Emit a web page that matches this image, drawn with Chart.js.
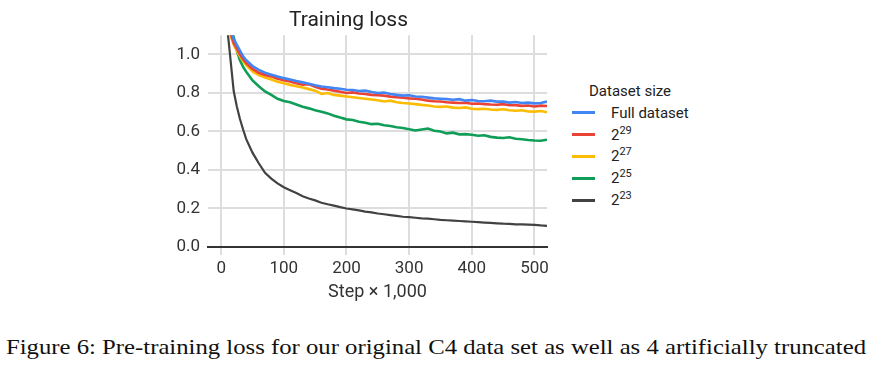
<!DOCTYPE html>
<html>
<head>
<meta charset="utf-8">
<script src="https://cdn.jsdelivr.net/npm/chart.js@4"></script>
<style>
  html, body { margin: 0; padding: 0; background: #fff; }
  body { width: 879px; height: 367px; position: relative; overflow: hidden; font-family: Roboto, sans-serif; }
  #wrap { position: absolute; left: 0; top: 0; width: 560px; height: 305px; }
  #legend { position: absolute; left: 572px; top: 80px; color: #222; font-size: 15px; }
  #legend .ttl { margin-left: 17px; height: 22px; line-height: 22px; }
  #legend .row { height: 21.8px; display: flex; align-items: center; }
  #legend .sw { width: 23px; height: 3px; margin-right: 16px; }
  #legend sup { font-size: 11px; vertical-align: 6px; line-height: 0; }
  #caption { position: absolute; left: 6px; top: 335px; white-space: nowrap; font-family: "Liberation Serif", "DejaVu Serif", serif; font-size: 21px; color: #111; transform-origin: 0 0; }
</style>
</head>
<body>
<div id="wrap"><canvas id="lossChart"></canvas></div>
<div id="legend"></div>
<div id="caption">Figure 6: Pre-training loss for our original C4 data set as well as 4 artificially truncated</div>
<script>
const steps = [10, 15, 20, 25, 30, 35, 40, 50, 60, 70, 80, 90, 100, 110, 120, 130, 140, 150, 160, 170, 180, 190,
  200, 210, 220, 230, 240, 250, 260, 270, 280, 290, 300, 310, 320, 330, 340, 350, 360, 370, 380, 390,
  400, 410, 420, 430, 440, 450, 460, 470, 480, 490, 500, 510, 520];

const lossFull = [1.22, 1.12, 1.08, 1.05, 1.02, 0.99, 0.97, 0.94, 0.92, 0.905, 0.895, 0.885, 0.877, 0.87, 0.862, 0.855, 0.848, 0.84, 0.834, 0.83, 0.825, 0.822,
  0.817, 0.815, 0.81, 0.812, 0.805, 0.8, 0.802, 0.795, 0.79, 0.786, 0.788, 0.782, 0.78, 0.776, 0.772, 0.77, 0.768, 0.765, 0.768, 0.76,
  0.763, 0.758, 0.757, 0.76, 0.755, 0.756, 0.75, 0.753, 0.748, 0.75, 0.746, 0.748, 0.755];
const loss29 = [1.2, 1.11, 1.06, 1.03, 1.0, 0.975, 0.955, 0.925, 0.905, 0.893, 0.886, 0.874, 0.866, 0.86, 0.85, 0.843, 0.845, 0.832, 0.822, 0.818, 0.812, 0.806,
  0.8, 0.803, 0.797, 0.795, 0.79, 0.788, 0.786, 0.781, 0.778, 0.775, 0.772, 0.77, 0.766, 0.76, 0.757, 0.756, 0.752, 0.75, 0.748, 0.749,
  0.744, 0.745, 0.742, 0.74, 0.739, 0.742, 0.736, 0.737, 0.733, 0.735, 0.73, 0.734, 0.732];
const loss27 = [1.19, 1.1, 1.05, 1.02, 0.99, 0.965, 0.945, 0.912, 0.893, 0.88, 0.87, 0.858, 0.85, 0.842, 0.835, 0.828, 0.82, 0.812, 0.795, 0.8, 0.79, 0.786,
  0.782, 0.778, 0.774, 0.77, 0.766, 0.762, 0.756, 0.76, 0.752, 0.748, 0.745, 0.742, 0.738, 0.735, 0.73, 0.728, 0.73, 0.724, 0.722, 0.725,
  0.718, 0.716, 0.718, 0.714, 0.712, 0.715, 0.71, 0.708, 0.71, 0.704, 0.703, 0.706, 0.7];
const loss25 = [1.25, 1.15, 1.09, 1.02, 0.97, 0.935, 0.91, 0.865, 0.835, 0.808, 0.79, 0.77, 0.758, 0.752, 0.74, 0.728, 0.72, 0.71, 0.702, 0.694, 0.682, 0.672,
  0.663, 0.66, 0.65, 0.645, 0.638, 0.64, 0.632, 0.628, 0.622, 0.618, 0.612, 0.605, 0.61, 0.615, 0.604, 0.6, 0.59, 0.594, 0.585, 0.586,
  0.583, 0.578, 0.58, 0.572, 0.568, 0.566, 0.57, 0.562, 0.56, 0.556, 0.553, 0.552, 0.557];
const loss23 = [1.13, 0.97, 0.81, 0.73, 0.665, 0.61, 0.56, 0.49, 0.435, 0.385, 0.355, 0.33, 0.31, 0.295, 0.28, 0.264, 0.252, 0.242, 0.23, 0.222, 0.215, 0.207,
  0.2, 0.195, 0.19, 0.184, 0.18, 0.174, 0.17, 0.166, 0.162, 0.157, 0.155, 0.152, 0.149, 0.147, 0.144, 0.141, 0.139, 0.137, 0.135, 0.133,
  0.131, 0.129, 0.127, 0.125, 0.123, 0.121, 0.12, 0.118, 0.117, 0.116, 0.115, 0.112, 0.11];

const seriesNames = ["Full dataset", "2<sup>29</sup>", "2<sup>27</sup>", "2<sup>25</sup>", "2<sup>23</sup>"];
const seriesColors = ["#4285f4", "#ea4335", "#fbbc04", "#0f9d58", "#424242"];
const seriesValues = [lossFull, loss29, loss27, loss25, loss23];
const xTicks = [0, 100, 200, 300, 400, 500];
const yTicks = [0, 0.2, 0.4, 0.6, 0.8, 1.0];

const datasets = seriesValues.map((vals, i) => ({
  label: seriesNames[i].replace(/<\/?sup>/g, ""),
  data: vals.map((v, j) => ({ x: steps[j], y: v })),
  borderColor: seriesColors[i],
  borderWidth: i === 4 ? 2.2 : 2.6,
  pointRadius: 0,
  tension: 0,
  fill: false,
}));

const textColor = "#333";
new Chart(document.getElementById("lossChart"), {
  type: "line",
  data: { datasets: datasets },
  options: {
    responsive: true,
    maintainAspectRatio: false,
    animation: false,
    layout: { padding: { left: 150, right: 13, top: 0, bottom: 0 } },
    scales: {
      x: {
        type: "linear",
        min: -21,
        max: 520,
        afterBuildTicks: (scale) => { scale.ticks = xTicks.map((v) => ({ value: v })); },
        afterFit: (scale) => { scale.height = 58; },
        grid: { color: "#dddddd", lineWidth: 2, tickLength: 8 },
        border: { color: "#333", width: 2 },
        ticks: { color: textColor, font: { family: "Roboto", size: 17 }, padding: 4 },
        title: {
          display: true,
          text: "Step × 1,000",
          color: textColor,
          font: { family: "Roboto", size: 18 },
          padding: { top: 0, bottom: 2 },
        },
      },
      y: {
        min: 0,
        max: 1.1,
        afterBuildTicks: (scale) => { scale.ticks = yTicks.map((v) => ({ value: v })); },
        afterFit: (scale) => { scale.width = 58; },
        grid: { color: "#dddddd", lineWidth: 2, drawTicks: false },
        border: { display: false },
        ticks: {
          color: textColor,
          font: { family: "Roboto", size: 17 },
          padding: 8,
          callback: (v) => v.toFixed(1),
        },
      },
    },
    plugins: {
      legend: { display: false },
      tooltip: { enabled: false },
      title: {
        display: true,
        text: "Training loss",
        color: "#222",
        font: { family: "Roboto", size: 21, weight: "normal" },
        padding: { top: 8, bottom: 2 },
      },
    },
  },
});

// legend with superscripts, built from the same arrays
const legend = document.getElementById("legend");
legend.innerHTML = '<div class="ttl">Dataset size</div>' +
  seriesNames.map((name, i) =>
    '<div class="row"><span class="sw" style="background:' + seriesColors[i] + '"></span><span>' + name + '</span></div>'
  ).join("");

// stretch caption to the reference width
const caption = document.getElementById("caption");
const w = caption.getBoundingClientRect().width;
caption.style.transform = "scaleX(" + (860 / w) + ")";
</script>
</body>
</html>
